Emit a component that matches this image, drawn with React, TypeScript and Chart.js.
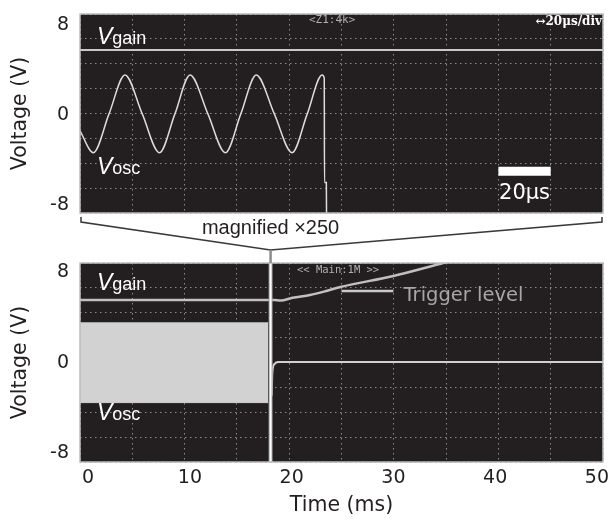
import React, { useEffect, useRef } from "react";
import { Chart, registerables } from "chart.js";
Chart.register(...registerables);

const FONT = "'Liberation Sans', Arial, Helvetica, sans-serif";
const AXFONT = "'DejaVu Sans', 'Liberation Sans', Arial, sans-serif";
const MONO = "'DejaVu Sans Mono', 'Liberation Mono', monospace";
const SERIF = "'DejaVu Serif', 'Liberation Serif', serif";
const TEXT = "#231f20";
const PLOT_BG = "#231f20";
const FRAME = "#bdbdbd";
const GRID = "rgba(150,150,150,0.9)";

// ---------- Top panel (magnified, time in µs) ----------
const zoomTimeUs = [0, 5.1, 11.1, 17.2, 23.8, 30.4, 36.3, 42.1, 48.9, 55.6, 61.5, 67.4, 74.3, 81.1, 86.9, 92.6, 93.4, 93.5, 94.2, 94.3];
const zoomVosc = [-1.4, -3.35, 0.1, 3.56, 0.1, -3.35, 0.1, 3.56, 0.1, -3.35, 0.1, 3.56, 0.1, -3.35, 0.1, 3.56, 3.3, -6.0, -6.0, -10];
const zoomGainTime = [0, 200];
const zoomGainV = [5.78, 5.78];
const scaleBarTime = [160, 180];
const scaleBarV = [-5.0, -5.0];

// ---------- Bottom panel (time in ms) ----------
const bandTime = [-0.8, 17.7];
const bandUpper = [3.55, 3.55];
const bandLower = [-3.5, -3.5];
const oscAfterTime = [18.05, 18.1, 18.3, 18.7, 50.6];
const oscAfterV = [-2.9, -0.9, -0.1, 0.08, 0.08];
const gainTime = [-0.8, 18.3, 18.9, 20.1, 21.8, 23.5, 24.8, 30.0, 34.9, 40.0];
const gainV = [5.57, 5.57, 5.52, 5.77, 6.01, 6.39, 6.72, 7.69, 8.84, 10.0];
const triggerTime = [24.9, 30.0];
const triggerV = [6.37, 6.37];
const markerTime = 17.93;
const markerV = [-10, 10];

const yTicks = [-8, 0, 8];
const xTicks = [0, 10, 20, 30, 40, 50];
const gridDivX = 10;
const gridDivY = 8;

const pts = (xs: number[], ys: number[]) => xs.map((x, i) => ({ x, y: ys[i] }));

const gridAxis = (axis: "x" | "y", max: number) => ({
  type: "linear",
  position: axis === "x" ? "bottom" : "left",
  min: 0,
  max,
  display: true,
  ticks: { display: false, stepSize: 1 },
  grid: { display: true, drawTicks: false, color: GRID, lineWidth: 1 },
  border: { display: false, dash: [1.5, 3.5] },
  afterFit: (s: any) => {
    if (axis === "x") s.height = 0;
    else s.width = 0;
    s.paddingTop = 0; s.paddingBottom = 0; s.paddingLeft = 0; s.paddingRight = 0;
  },
});

const yAxis = (min: number, max: number) => ({
  type: "linear",
  position: "left",
  min,
  max,
  afterBuildTicks: (s: any) => { s.ticks = yTicks.map((v) => ({ value: v })); },
  ticks: { color: TEXT, font: { family: AXFONT, size: 19 }, padding: 11 },
  grid: { display: false, drawTicks: false },
  border: { display: false },
  title: { display: true, text: "Voltage (V)", color: TEXT, font: { family: AXFONT, size: 20.5 }, padding: { top: 8.5, bottom: 0 } },
  afterFit: (s: any) => { s.width = 80; s.paddingTop = 0; s.paddingBottom = 0; },
});

function drawVLabel(ctx: CanvasRenderingContext2D, x: number, y: number, sub: string) {
  ctx.textAlign = "left";
  ctx.textBaseline = "alphabetic";
  ctx.fillStyle = "#ffffff";
  ctx.font = `italic 23px ${FONT}`;
  ctx.fillText("V", x, y);
  const w = ctx.measureText("V").width;
  ctx.font = `18px ${FONT}`;
  ctx.fillText(sub, x + w, y);
}

function plotBg(chart: any) {
  const { ctx, chartArea: a } = chart;
  ctx.save();
  ctx.fillStyle = PLOT_BG;
  ctx.fillRect(a.left, a.top, a.right - a.left, a.bottom - a.top);
  ctx.restore();
}

function frame(chart: any) {
  const { ctx, chartArea: a } = chart;
  ctx.strokeStyle = FRAME;
  ctx.lineWidth = 1.5;
  ctx.strokeRect(a.left, a.top, a.right - a.left, a.bottom - a.top);
}

const topDecor = {
  id: "topDecor",
  beforeDraw: plotBg,
  afterDraw(chart: any) {
    const { ctx, chartArea: a, scales } = chart;
    const xs = scales.x, ys = scales.y;
    ctx.save();
    frame(chart);
    drawVLabel(ctx, a.left + 17, ys.getPixelForValue(6.3), "gain");
    drawVLabel(ctx, a.left + 17, ys.getPixelForValue(-5.24), "osc");
    ctx.font = `21px ${AXFONT}`;
    ctx.textAlign = "center";
    ctx.textBaseline = "alphabetic";
    ctx.fillStyle = "#ffffff";
    ctx.fillText("20μs", xs.getPixelForValue(170), ys.getPixelForValue(-7.47));
    ctx.font = `11px ${MONO}`;
    ctx.fillStyle = "#b0b0b0";
    ctx.textAlign = "left";
    ctx.textBaseline = "middle";
    ctx.fillText("<Z1:4k>", a.left + 229, a.top + 6.5);
    ctx.font = `bold 12px ${SERIF}`;
    ctx.fillStyle = "#ffffff";
    ctx.textAlign = "right";
    ctx.fillText("↔20μs/div", a.right - 1, a.top + 7.5);
    ctx.restore();
  },
};

const bottomDecor = {
  id: "bottomDecor",
  beforeDraw: plotBg,
  afterDraw(chart: any) {
    const { ctx, chartArea: a, scales } = chart;
    const xs = scales.x, ys = scales.y;
    const cx = xs.getPixelForValue(markerTime);
    ctx.save();
    frame(chart);
    // magnifier bracket
    ctx.strokeStyle = "#3a3a3a";
    ctx.lineWidth = 1.5;
    ctx.beginPath();
    ctx.moveTo(a.left + 1, 3);
    ctx.lineTo(a.left + 1, 8);
    ctx.lineTo(cx, 36);
    ctx.lineTo(a.right - 1, 8);
    ctx.lineTo(a.right - 1, 3);
    ctx.stroke();
    ctx.strokeStyle = "#8c8c8c";
    ctx.lineWidth = 2.5;
    ctx.beginPath();
    ctx.moveTo(cx, 36);
    ctx.lineTo(cx, a.top);
    ctx.stroke();
    ctx.font = `20px ${FONT}`;
    ctx.fillStyle = TEXT;
    ctx.textAlign = "center";
    ctx.textBaseline = "alphabetic";
    ctx.fillText("magnified ×250", cx, 19.5);
    // labels
    drawVLabel(ctx, a.left + 17, ys.getPixelForValue(6.45), "gain");
    drawVLabel(ctx, a.left + 17, ys.getPixelForValue(-5.0), "osc");
    ctx.font = `19.5px ${AXFONT}`;
    ctx.fillStyle = "#a6a6a6";
    ctx.textAlign = "left";
    ctx.fillText("Trigger level", xs.getPixelForValue(31.0), ys.getPixelForValue(5.48));
    ctx.font = `10.5px ${MONO}`;
    ctx.fillStyle = "#b0b0b0";
    ctx.textBaseline = "middle";
    ctx.fillText("<< Main:1M >>", a.left + 217, a.top + 7);
    ctx.restore();
  },
};

function topConfig(): any {
  return {
    type: "line",
    data: {
      datasets: [
        { data: pts(scaleBarTime, scaleBarV), borderColor: "#ffffff", borderWidth: 9, borderCapStyle: "butt", pointRadius: 0 },
        { data: pts(zoomTimeUs, zoomVosc), borderColor: "#dcdcdc", borderWidth: 1.5, pointRadius: 0, cubicInterpolationMode: "monotone" },
        { data: pts(zoomGainTime, zoomGainV), borderColor: "#c8c8c8", borderWidth: 2, pointRadius: 0 },
      ],
    },
    options: {
      responsive: false,
      animation: false,
      devicePixelRatio: 1,
      layout: { padding: { top: 14, right: 7, bottom: 1, left: 0 } },
      plugins: { legend: { display: false }, tooltip: { enabled: false } },
      scales: {
        x: {
          type: "linear",
          min: 0,
          max: 200,
          ticks: { display: false, stepSize: 20 },
          grid: { display: true, drawTicks: false, color: GRID, lineWidth: 1 },
          border: { display: false, dash: [1.5, 3.5] },
          afterFit: (s: any) => { s.height = 0; s.paddingLeft = 0; s.paddingRight = 0; },
        },
        y: yAxis(-8.71, 8.98),
        y2: gridAxis("y", gridDivY),
      },
    },
    plugins: [topDecor],
  };
}

function bottomConfig(): any {
  return {
    type: "line",
    data: {
      datasets: [
        { data: pts([markerTime, markerTime], markerV), borderColor: "#ffffff", borderWidth: 2, pointRadius: 0 },
        { data: pts([markerTime, markerTime], markerV), borderColor: "#9a9a9a", borderWidth: 4, pointRadius: 0 },
        { data: pts(triggerTime, triggerV), borderColor: "#c8c8c8", borderWidth: 2.5, pointRadius: 0 },
        { data: pts(gainTime, gainV), borderColor: "#c0c0c0", borderWidth: 2.5, pointRadius: 0, cubicInterpolationMode: "monotone" },
        { data: pts(oscAfterTime, oscAfterV), borderColor: "#d0d0d0", borderWidth: 2, pointRadius: 0, cubicInterpolationMode: "monotone" },
        { data: pts(bandTime, bandUpper), borderColor: "#d2d2d2", borderWidth: 1, pointRadius: 0, fill: "+1", backgroundColor: "#d2d2d2" },
        { data: pts(bandTime, bandLower), borderColor: "#d2d2d2", borderWidth: 1, pointRadius: 0 },
      ],
    },
    options: {
      responsive: false,
      animation: false,
      devicePixelRatio: 1,
      layout: { padding: { top: 49, right: 7, bottom: 0, left: 0 } },
      plugins: { legend: { display: false }, tooltip: { enabled: false } },
      scales: {
        x: {
          type: "linear",
          min: -0.8,
          max: 50.6,
          afterBuildTicks: (s: any) => { s.ticks = xTicks.map((v) => ({ value: v })); },
          ticks: { color: TEXT, font: { family: AXFONT, size: 19 }, padding: 5, maxRotation: 0, autoSkip: false },
          grid: { display: false, drawTicks: false },
          border: { display: false },
          title: { display: true, text: "Time (ms)", color: TEXT, font: { family: AXFONT, size: 20.5 }, padding: { top: 0, bottom: 6 } },
          afterFit: (s: any) => { s.height = 62; s.paddingLeft = 0; s.paddingRight = 0; },
        },
        x2: gridAxis("x", gridDivX),
        y: yAxis(-8.75, 8.84),
        y2: gridAxis("y", gridDivY),
      },
    },
    plugins: [bottomDecor],
  };
}

export default function App() {
  const topRef = useRef<HTMLCanvasElement>(null);
  const botRef = useRef<HTMLCanvasElement>(null);
  useEffect(() => {
    const top = new Chart(topRef.current!, topConfig());
    const bot = new Chart(botRef.current!, bottomConfig());
    return () => {
      top.destroy();
      bot.destroy();
    };
  }, []);
  return (
    <div style={{ position: "fixed", left: 0, top: 0, width: 610, height: 524, background: "#fff", overflow: "hidden" }}>
      <canvas ref={topRef} width={610} height={214} style={{ position: "absolute", left: 0, top: 0, width: 610, height: 214 }} />
      <canvas ref={botRef} width={610} height={310} style={{ position: "absolute", left: 0, top: 214, width: 610, height: 310 }} />
    </div>
  );
}
